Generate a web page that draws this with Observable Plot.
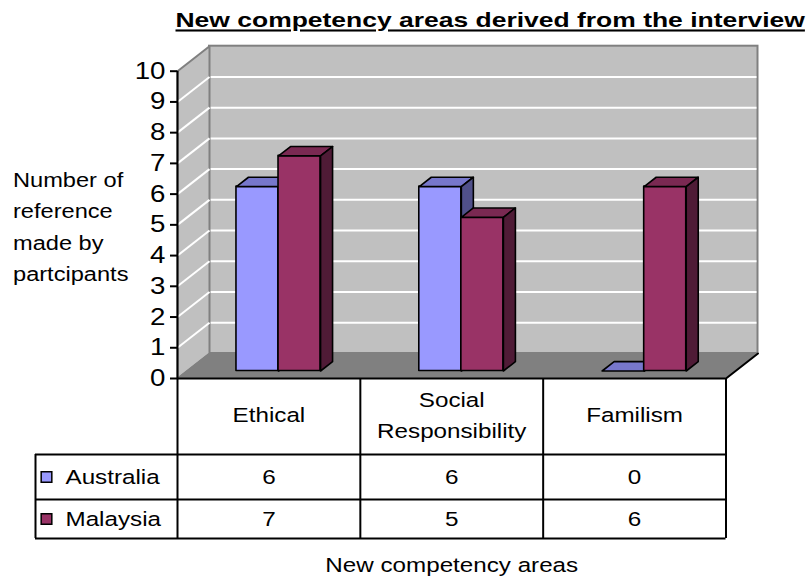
<!DOCTYPE html>
<html>
<head>
<meta charset="utf-8">
<script src="https://cdn.jsdelivr.net/npm/d3@7"></script>
<script src="https://cdn.jsdelivr.net/npm/@observablehq/plot@0.6"></script>
<style>
  html, body { margin: 0; padding: 0; background: #fff; }
  #chart { width: 809px; height: 581px; }
</style>
</head>
<body>
<div id="chart"></div>
<script>
// ---- data ----
const categories = ["Ethical", "Social\nResponsibility", "Familism"];
const seriesNames = ["Australia", "Malaysia"];
const australia = [6, 6, 0];
const malaysia = [7, 5, 6];
const yTicks = [0, 1, 2, 3, 4, 5, 6, 7, 8, 9, 10];
const titleText = "New competency areas derived from the interview";
const yTitle = "Number of\nreference\nmade by\npartcipants";
const xTitle = "New competency areas";

// ---- look ----
const W = 809, H = 581;
const M = {top: 70.7, right: 83.5, bottom: 203, left: 177};
const FONT = "Liberation Sans, Arial, Helvetica, sans-serif";
const STRETCH = 1.18;            // labels are drawn horizontally widened
const TITLE_STRETCH = 1.26;
const colors = {
  Australia: {front: "#9999ff", top: "#7777cc", side: "#50508a"},
  Malaysia:  {front: "#993366", top: "#7a2952", side: "#4f1b36"}
};
const WALL = "#c0c0c0", WALL_EDGE = "#808080", FLOOR = "#808080";

// pixel size of one category column and of one value unit
const colPx = (W - M.left - M.right) / 3;
const unitPx = (H - M.top - M.bottom) / 10;
// the floor recedes by this many pixels (right, up) from front to back wall
const DEPTH = [32, 25];
// project a point (category position, value, depth 0..1) into scale units
const proj = (c, v, t) => ({x: c + t * DEPTH[0] / colPx, y: v + t * DEPTH[1] / unitPx});

// bars sit between these depths, each bar this wide (in column units)
const T0 = 0.3, T1 = 0.675, BAR_W = 0.23;

// table geometry below the floor (pixels from the front floor edge)
const ROW_HEAD = 76, ROW_MID = 121, ROW_END = 160;
const rowCenters = [98.5, 140.5];
const LABEL_LEFT = -142;

// ---- faces of the 3-D bars ----
const seriesValues = [australia, malaysia];
function faces(k) {
  const fronts = [], tops = [], sides = [];
  seriesValues[k].forEach((v, i) => {
    const x1 = i + 0.5 - BAR_W + k * BAR_W, x2 = x1 + BAR_W;
    const id = `${k}-${i}`;
    fronts.push({x1, x2, v});
    [[x1, v, T0], [x2, v, T0], [x2, v, T1], [x1, v, T1]]
      .forEach(([c, y, t]) => tops.push({id, ...proj(c, y, t)}));
    [[x2, 0, T0], [x2, v, T0], [x2, v, T1], [x2, 0, T1]]
      .forEach(([c, y, t]) => sides.push({id, ...proj(c, y, t)}));
  });
  return {fronts, tops, sides};
}

function barMarks(k) {
  const c = colors[seriesNames[k]];
  const f = faces(k);
  const edge = {stroke: "black", strokeWidth: 1.6, strokeLinejoin: "round"};
  return [
    Plot.rect(f.fronts, {x1: "x1", x2: "x2", y1: () => 0, y2: "v",
      dx: T0 * DEPTH[0], dy: -T0 * DEPTH[1], fill: c.front, ...edge}),
    Plot.line(f.tops, {x: "x", y: "y", z: "id", curve: "linear-closed", fill: c.top, ...edge}),
    Plot.line(f.sides, {x: "x", y: "y", z: "id", curve: "linear-closed", fill: c.side, ...edge})
  ];
}

// ---- walls and floor ----
const leftWall = [[0, 0, 0], [0, 10, 0], [0, 10, 1], [0, 0, 1]].map(([c, v, t]) => proj(c, v, t));
const floor = [[0, 0, 0], [3, 0, 0], [3, 0, 1], [0, 0, 1]].map(([c, v, t]) => proj(c, v, t));
const gridVals = yTicks.filter(v => v > 0 && v < 10);
const leftGrid = gridVals.map(v => {
  const a = proj(0, v, 0), b = proj(0, v, 1);
  return {x1: a.x, y1: a.y, x2: b.x, y2: b.y};
});
const floorRight = [proj(3, 0, 0), proj(3, 0, 1)];

const textStyle = {fontFamily: FONT, fill: "black", lineAnchor: "middle"};
const tableLine = {stroke: "black", strokeWidth: 2};

const chart = Plot.plot({
  width: W, height: H,
  marginTop: M.top, marginRight: M.right, marginBottom: M.bottom, marginLeft: M.left,
  x: {domain: [0, 3], axis: null},
  y: {domain: [0, 10], axis: null},
  style: {fontFamily: FONT, color: "black", background: "white", overflow: "visible"},
  marks: [
    // back wall with its white gridlines
    Plot.rect([0], {x1: () => 0, x2: () => 3, y1: () => 0, y2: () => 10,
      dx: DEPTH[0], dy: -DEPTH[1], fill: WALL, stroke: WALL_EDGE, strokeWidth: 2}),
    Plot.ruleY(gridVals, {dx: DEPTH[0], dy: -DEPTH[1], stroke: "white", strokeWidth: 2, insetRight: 1}),
    // side wall
    Plot.line(leftWall, {x: "x", y: "y", curve: "linear-closed", fill: WALL, stroke: WALL_EDGE, strokeWidth: 2}),
    Plot.link(leftGrid, {x1: "x1", y1: "y1", x2: "x2", y2: "y2", stroke: "white", strokeWidth: 2}),
    // floor
    Plot.line(floor, {x: "x", y: "y", curve: "linear-closed", fill: FLOOR, stroke: FLOOR, strokeWidth: 1}),
    Plot.line(floorRight, {x: "x", y: "y", stroke: "black", strokeWidth: 2}),

    // bars, left to right so nearer faces cover farther ones
    ...barMarks(0),
    ...barMarks(1),

    // value axis
    Plot.axisY({ticks: yTicks, tickSize: 7, tickPadding: 5, fontSize: 23.5, strokeWidth: 2,
      label: null, fontFamily: FONT}),
    Plot.ruleX([0], {...tableLine, insetBottom: -ROW_END}),

    // data table: grid
    Plot.ruleY([0], tableLine),
    Plot.ruleY([0], {...tableLine, dy: ROW_HEAD, insetLeft: LABEL_LEFT}),
    Plot.ruleY([0], {...tableLine, dy: ROW_MID, insetLeft: LABEL_LEFT}),
    Plot.ruleY([0], {...tableLine, dy: ROW_END, insetLeft: LABEL_LEFT}),
    Plot.ruleX([1, 2, 3], {...tableLine, y1: () => 0, y2: () => 0, insetBottom: -ROW_END}),
    Plot.ruleX([0], {...tableLine, y1: () => 0, y2: () => 0, dx: LABEL_LEFT,
      insetTop: ROW_HEAD, insetBottom: -ROW_END}),

    // data table: category header, values and series keys
    Plot.text(categories, {x: (d, i) => i + 0.5, frameAnchor: "bottom", dy: 34,
      lineHeight: 1.52, fontSize: 20.5, ...textStyle}),
    ...seriesValues.map((vals, k) => Plot.text(vals, {x: (d, i) => i + 0.5, text: d => String(d),
      frameAnchor: "bottom", dy: rowCenters[k], fontSize: 20.5, ...textStyle})),
    ...seriesNames.map((s, k) => Plot.text([s], {frameAnchor: "bottom-left", textAnchor: "start",
      dx: -112, dy: rowCenters[k], fontSize: 20.5, ...textStyle})),
    ...seriesNames.map((s, k) => Plot.dot([s], {frameAnchor: "bottom-left", dx: -131, dy: rowCenters[k],
      symbol: "square", r: 6, fill: colors[s].front, stroke: "black", strokeWidth: 1.5})),

    // titles
    Plot.text([titleText], {frameAnchor: "top-left", textAnchor: "start", dx: -2, dy: -50.5,
      fontSize: 21, fontWeight: "bold", ...textStyle}),
    Plot.text([yTitle], {frameAnchor: "left", textAnchor: "start", dx: -164.5, dy: -1,
      lineHeight: 1.58, fontSize: 20, ...textStyle}),
    Plot.text([xTitle], {frameAnchor: "bottom", dy: 187, fontSize: 20.5, ...textStyle})
  ]
});

document.getElementById("chart").appendChild(chart);

// widen every label horizontally, keeping its height
d3.select(chart).selectAll("text").each(function () {
  const isTitle = this.textContent === titleText;
  const factor = isTitle ? TITLE_STRETCH : STRETCH;
  const spans = this.querySelectorAll("tspan");
  const targets = spans.length ? Array.from(spans) : [this];
  for (const el of targets) {
    const w = el.getComputedTextLength();
    if (w > 0) {
      el.setAttribute("textLength", (w * factor).toFixed(1));
      el.setAttribute("lengthAdjust", "spacingAndGlyphs");
    }
  }
  if (isTitle) this.style.textDecoration = "underline";
});
</script>
</body>
</html>
